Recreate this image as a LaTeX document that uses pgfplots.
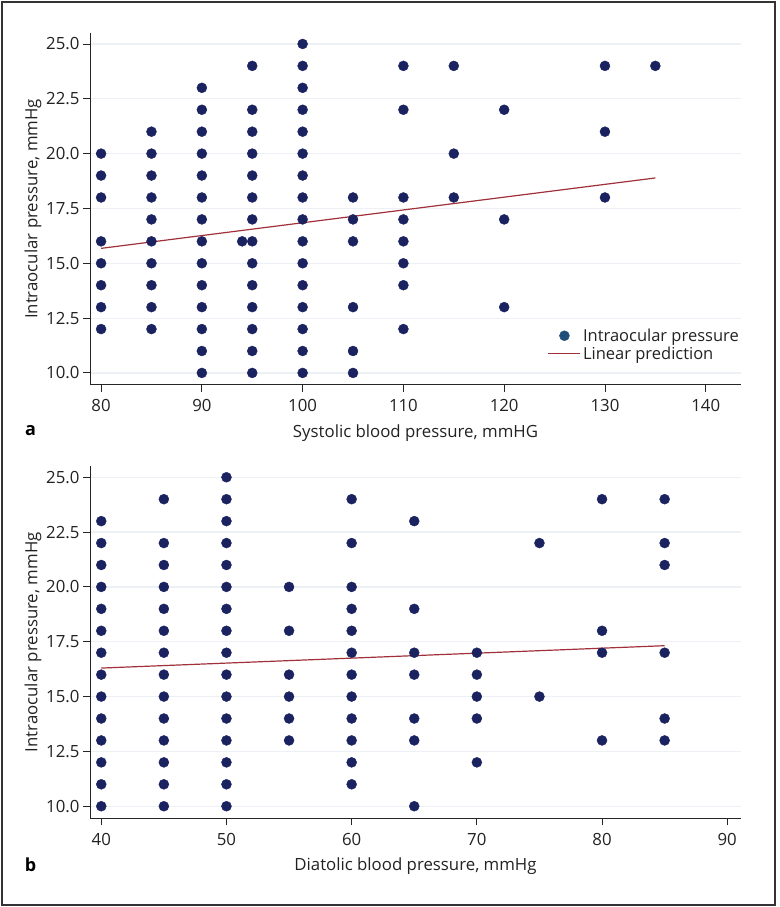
\documentclass[border=0pt]{standalone}
\usepackage{fontspec}
\setmainfont{Open Sans}
\usepackage{pgfplots}
\pgfplotsset{compat=1.18}

\definecolor{dotblue}{HTML}{1A2260}
\definecolor{legblue}{HTML}{1F4E7A}
\definecolor{fitred}{HTML}{A0303A}
\definecolor{gridc}{HTML}{EDF1F6}
\definecolor{txt}{HTML}{222222}

\pgfplotsset{
  panel/.style={
    width=651pt, height=352pt, scale only axis,
    axis x line*=bottom, axis y line*=left,
    axis line style={black!85, line width=1pt, -},
    tick align=outside, major tick length=7pt,
    tick style={black!85, line width=0.9pt},
    ymin=9.45, ymax=25.5, ytick={10,12.5,15,17.5,20,22.5,25},
    yticklabel style={/pgf/number format/.cd, fixed, fixed zerofill, precision=1},
    ymajorgrids, grid style={gridc, line width=1.2pt},
    tick label style={font=\fontsize{16.8}{17}\selectfont, color=txt},
    xticklabel style={yshift=-4pt},
    label style={font=\fontsize{16.8}{17}\selectfont, color=txt},
    xlabel style={yshift=-6pt},
    ylabel style={yshift=-2pt},
    /pgf/number format/assume math mode=true,
    clip=false,
    ylabel={Intraocular pressure, mmHg},
  },
  dots/.style={only marks, mark=*, mark size=5pt, color=dotblue, forget plot},
  fit/.style={fitred, line width=1.2pt},
}

\begin{document}
\begin{tikzpicture}
\path[use as bounding box] (0,0) rectangle (779pt,907pt);
\draw[line width=2pt, black!80] (2pt,2pt) rectangle (775pt,905pt);

% panel a
\begin{axis}[panel, at={(90pt,522pt)}, anchor=south west,
  xmin=78.9, xmax=143.5, xtick={80,90,100,110,120,130,140},
  xlabel={Systolic blood pressure, mmHG},
  legend style={at={(1,0)}, anchor=south east, draw=none, fill=none,
    font=\fontsize{16.5}{16.5}\selectfont, text=txt, inner sep=0pt, yshift=22pt,
    /tikz/every even column/.append style={column sep=1pt}},
  legend cell align=left]
\addlegendimage{legend image code/.code={\fill[legblue] (16pt,0pt) circle (5pt);}}
\addlegendentry{Intraocular pressure}
\addplot[dots] coordinates {
 (80,12) (80,13) (80,14) (80,15) (80,16) (80,18) (80,19) (80,20)
 (85,12) (85,13) (85,14) (85,15) (85,16) (85,17) (85,18) (85,19) (85,20) (85,21)
 (90,10) (90,11) (90,12) (90,13) (90,14) (90,15) (90,16) (90,17) (90,18) (90,19) (90,20) (90,21) (90,22) (90,23)
 (94,16)
 (95,10) (95,11) (95,12) (95,13) (95,14) (95,15) (95,16) (95,17) (95,18) (95,19) (95,20) (95,21) (95,22) (95,24)
 (100,10) (100,11) (100,12) (100,13) (100,14) (100,15) (100,16) (100,17) (100,18) (100,19) (100,20) (100,21) (100,22) (100,23) (100,24) (100,25)
 (105,10) (105,11) (105,13) (105,16) (105,17) (105,18)
 (110,12) (110,14) (110,15) (110,16) (110,17) (110,18) (110,22) (110,24)
 (115,18) (115,20) (115,24)
 (120,13) (120,17) (120,22)
 (130,18) (130,21) (130,24)
 (135,24)
};
\addplot[fit, legend image code/.code={\draw[fitred, line width=1.2pt] (0pt,0pt) -- (32pt,0pt);}]
  coordinates {(80,15.68) (135,18.89)};
\addlegendentry{Linear prediction}
\node[font=\fontsize{18}{18}\selectfont\bfseries, text=black] at (rel axis cs:-0.0914,-0.1307) {a};
\end{axis}

% panel b
\begin{axis}[panel, at={(90pt,88.7pt)}, anchor=south west,
  xmin=39.1, xmax=91.1, xtick={40,50,60,70,80,90},
  xlabel={Diatolic blood pressure, mmHg}]
\addplot[dots] coordinates {
 (40,10) (40,11) (40,12) (40,13) (40,14) (40,15) (40,16) (40,17) (40,18) (40,19) (40,20) (40,21) (40,22) (40,23)
 (45,10) (45,11) (45,12) (45,13) (45,14) (45,15) (45,16) (45,17) (45,18) (45,19) (45,20) (45,21) (45,22) (45,24)
 (50,10) (50,11) (50,12) (50,13) (50,14) (50,15) (50,16) (50,17) (50,18) (50,19) (50,20) (50,21) (50,22) (50,23) (50,24) (50,25)
 (55,13) (55,14) (55,15) (55,16) (55,18) (55,20)
 (60,11) (60,12) (60,13) (60,14) (60,15) (60,16) (60,17) (60,18) (60,19) (60,20) (60,22) (60,24)
 (65,10) (65,13) (65,14) (65,16) (65,17) (65,19) (65,23)
 (70,12) (70,14) (70,15) (70,16) (70,17)
 (75,15) (75,22)
 (80,13) (80,17) (80,18) (80,24)
 (85,13) (85,14) (85,17) (85,21) (85,22) (85,24)
};
\addplot[fit] coordinates {(40,16.30) (85,17.32)};
\node[font=\fontsize{18}{18}\selectfont\bfseries, text=black] at (rel axis cs:-0.0914,-0.1307) {b};
\end{axis}
\end{tikzpicture}
\end{document}
